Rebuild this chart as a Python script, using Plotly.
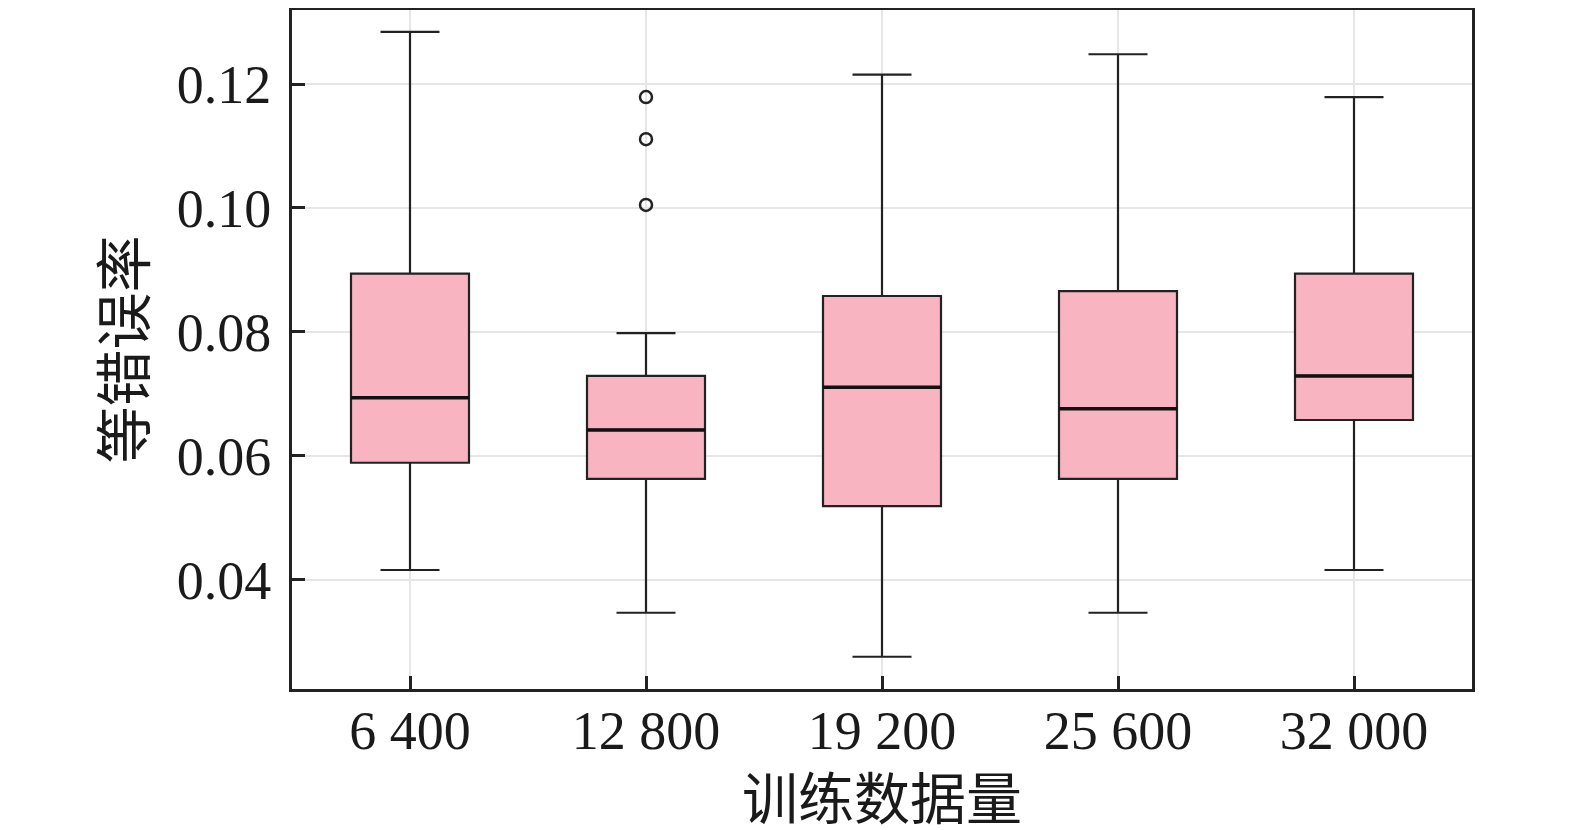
import plotly.graph_objects as go

# ---------------------------
# data
# ---------------------------
categories = ["6 400", "12 800", "19 200", "25 600", "32 000"]
lower_fence = [0.0416, 0.0347, 0.0276, 0.0347, 0.0416]
q1 = [0.0589, 0.0563, 0.0519, 0.0563, 0.0658]
median = [0.0694, 0.0642, 0.0711, 0.0676, 0.0729]
q3 = [0.0894, 0.0729, 0.0858, 0.0866, 0.0894]
upper_fence = [0.1284, 0.0798, 0.1215, 0.1248, 0.1179]

outlier_cat = ["12 800", "12 800", "12 800"]
outlier_val = [0.1179, 0.1111, 0.1005]

y_ticks = [0.04, 0.06, 0.08, 0.10, 0.12]
y_labels = ["0.04", "0.06", "0.08", "0.10", "0.12"]

FONT = "Liberation Serif, Noto Sans CJK SC, serif"
PINK = "#F8B4C0"
BOX_W = 0.5

fig = go.Figure()

# main boxes (outline, whiskers)
fig.add_trace(go.Box(
    x=categories, q1=q1, median=median, q3=q3,
    lowerfence=lower_fence, upperfence=upper_fence,
    width=BOX_W, whiskerwidth=0.5,
    fillcolor=PINK, line=dict(color="#222222", width=2.2),
    boxpoints=False, hoverinfo="skip",
))

# thicker black median lines (degenerate boxes at the median)
fig.add_trace(go.Box(
    x=categories, q1=median, median=median, q3=median,
    lowerfence=median, upperfence=median,
    width=BOX_W, fillcolor="rgba(0,0,0,0)",
    line=dict(color="#111111", width=3.5),
    boxpoints=False, hoverinfo="skip",
))

# outliers
fig.add_trace(go.Scatter(
    x=outlier_cat, y=outlier_val, mode="markers",
    marker=dict(symbol="circle-open", size=12, color="#222222",
                line=dict(width=2.5, color="#222222")),
    hoverinfo="skip",
))

axis_common = dict(
    showline=True, linecolor="#222222", linewidth=3, mirror=True,
    ticks="inside", ticklen=13, tickwidth=2.5, tickcolor="#222222",
    showgrid=True, gridcolor="#e6e6e6", gridwidth=2,
    zeroline=False, automargin=False,
    tickfont=dict(family=FONT, size=54, color="#1a1a1a"),
)

fig.update_xaxes(
    type="category", categoryorder="array", categoryarray=categories,
    range=[-0.5, 4.5],
    title=dict(text="训练数据量", font=dict(family=FONT, size=56, color="#1a1a1a"),
               standoff=21),
    ticklabelstandoff=-8,
    **axis_common,
)
fig.update_yaxes(
    range=[0.0224, 0.13194],
    tickvals=y_ticks, ticktext=y_labels,
    title=dict(text="等错误率", font=dict(family=FONT, size=57, color="#1a1a1a"),
               standoff=13),
    ticklabelstandoff=7,
    **axis_common,
)

# page body adds ~8px offset; margins compensate for it
fig.update_layout(
    width=1575, height=830,
    margin=dict(l=284, r=111, t=2, b=149),
    plot_bgcolor="white", paper_bgcolor="white",
    showlegend=False,
    boxmode="overlay",
)

fig.write_html("out.html")
